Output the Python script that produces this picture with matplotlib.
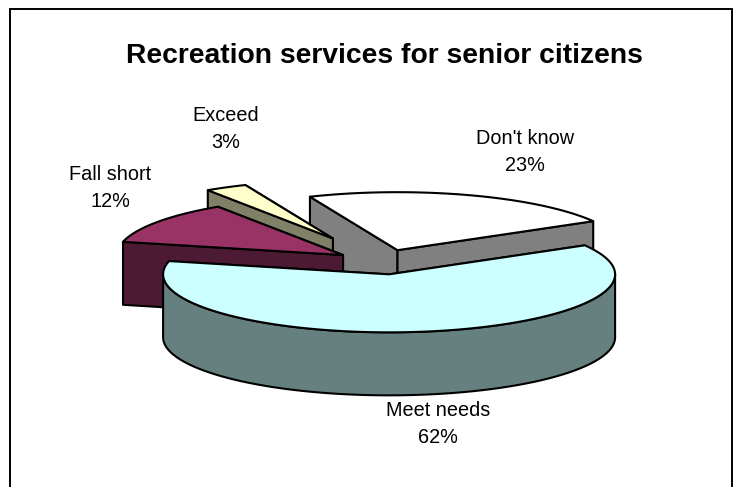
import numpy as np
import matplotlib
matplotlib.use("Agg")
import matplotlib.pyplot as plt
from matplotlib.patches import Rectangle

plt.rcParams['font.family'] = ['Liberation Sans', 'DejaVu Sans']

title = "Recreation services for senior citizens"
categories = ["Meet needs", "Fall short", "Exceed", "Don't know"]
values = [62, 12, 3, 23]
explode = [0.215, 0.21, 0.46, 0.215]
top_colors = ["#CCFFFF", "#993366", "#FFFFCC", "#FFFFFF"]
side_colors = ["#668080", "#4D1A33", "#808066", "#808080"]
label_pos = [(438, 424), (110, 188), (226, 129), (525, 152)]
draw_order = [3, 2, 1, 0]

W, H = 735, 487
CX, CY, RX, RY, DEPTH = 382, 262, 226, 58, 63
START = -30
EDGE = dict(edgecolor="black", linewidth=1.5, joinstyle="round")

fig = plt.figure(figsize=(W / 100, H / 100), dpi=100)
ax = fig.add_axes([0, 0, 1, 1])
ax.set_xlim(0, W)
ax.set_ylim(H, 0)
ax.axis("off")

ax.add_patch(Rectangle((10.5, 8.5), 722, 495, facecolor="white", edgecolor="black", linewidth=1.4, clip_on=True))

frac = np.array(values, dtype=float) / sum(values) * 360
starts = START + np.concatenate([[0], np.cumsum(frac)[:-1]])

def pt(t):
    t = np.radians(t)
    return np.cos(t) * RX, np.sin(t) * RY

for i in draw_order:
    a0, a1 = starts[i], starts[i] + frac[i]
    mid = (a0 + a1) / 2
    mx, my = pt(mid)
    ox, oy = CX + explode[i] * mx, CY + explode[i] * my
    ts = np.linspace(a0, a1, 200)
    ex, ey = pt(ts)
    ex, ey = ox + ex, oy + ey
    # flat side walls along the two radii, the rear one first
    for t in sorted((a0, a1), key=lambda a: pt(a)[1]):
        rx, ry = pt(t)
        xs = [ox, ox + rx, ox + rx, ox]
        ys = [oy, oy + ry, oy + ry + DEPTH, oy + DEPTH]
        ax.fill(xs, ys, facecolor=side_colors[i], **EDGE)
    # outer curved wall, the part that faces the viewer
    l, h = max(a0, 0), min(a1, 180)
    if h > l:
        tw = np.linspace(l, h, 200)
        wx, wy = pt(tw)
        wx, wy = ox + wx, oy + wy
        ax.fill(np.r_[wx, wx[::-1]], np.r_[wy, wy[::-1] + DEPTH], facecolor=side_colors[i], **EDGE)
    ax.fill(np.r_[ox, ex], np.r_[oy, ey], facecolor=top_colors[i], **EDGE)

ax.text(384.5, 56, title, ha="center", va="center", fontsize=20.3, fontweight="bold", color="black")
for name, v, (x, y) in zip(categories, values, label_pos):
    ax.text(x, y, f"{name}\n{v}%", ha="center", va="center", fontsize=14.3, color="black", linespacing=1.55)

fig.savefig("out.png", dpi=100)
